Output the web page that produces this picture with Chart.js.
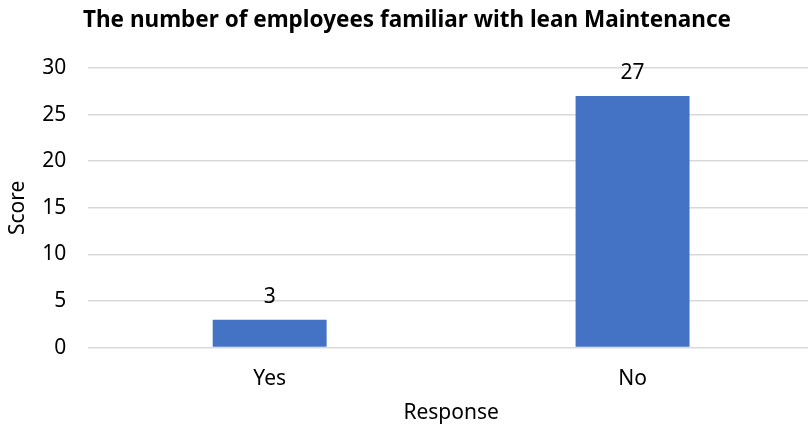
<!DOCTYPE html>
<html>
<head>
<meta charset="utf-8">
<script src="https://cdn.jsdelivr.net/npm/chart.js@4/dist/chart.umd.min.js"></script>
<style>
  html, body { margin: 0; padding: 0; background: #fff; overflow: hidden; }
  #wrap { width: 820px; height: 425px; }
</style>
</head>
<body>
<div id="wrap"><canvas id="chart" width="820" height="425"></canvas></div>
<script>
const categories = ['Yes', 'No'];
const scores = [3, 27];
const yTicks = [0, 5, 10, 15, 20, 25, 30];

const FONT = "'Noto Sans', sans-serif";

// draw the value above each bar
const valueLabels = {
  id: 'valueLabels',
  afterDatasetsDraw(chart) {
    const ctx = chart.ctx;
    const meta = chart.getDatasetMeta(0);
    ctx.save();
    ctx.font = '21px ' + FONT;
    ctx.fillStyle = '#000';
    ctx.textAlign = 'center';
    ctx.textBaseline = 'alphabetic';
    meta.data.forEach((bar, i) => {
      ctx.fillText(scores[i], bar.x, bar.y - 17);
    });
    ctx.restore();
  }
};

new Chart(document.getElementById('chart'), {
  type: 'bar',
  data: {
    labels: categories,
    datasets: [{
      label: 'Score',
      data: scores,
      backgroundColor: '#4472C4',
      barPercentage: 1,
      categoryPercentage: 0.314,
    }],
  },
  options: {
    responsive: false,
    animation: false,
    layout: { padding: { right: 6 } },
    plugins: {
      legend: { display: false },
      tooltip: { enabled: false },
      title: {
        display: true,
        text: 'The number of employees familiar with lean Maintenance',
        color: '#000',
        font: { family: FONT, size: 22.5, weight: 'bold' },
        padding: { top: 7, bottom: 34 },
      },
    },
    scales: {
      x: {
        grid: { display: false, drawTicks: false },
        border: { display: false },
        ticks: { color: '#000', font: { family: FONT, size: 21 }, padding: 19 },
        title: {
          display: true,
          text: 'Response',
          color: '#000',
          font: { family: FONT, size: 21 },
          // negative padding pulls the title in; the axis fit counts tick padding twice
          padding: { top: -10, bottom: -1 },
        },
      },
      y: {
        min: 0,
        max: 30,
        afterBuildTicks: (axis) => { axis.ticks = yTicks.map(v => ({ value: v })); },
        grid: { color: '#d9d9d9', lineWidth: 1.5, drawTicks: false },
        border: { display: false },
        ticks: { color: '#000', font: { family: FONT, size: 21 }, padding: 22 },
        title: {
          display: true,
          text: 'Score',
          color: '#000',
          font: { family: FONT, size: 21 },
          padding: { top: 5, bottom: -10 },
        },
      },
    },
  },
  plugins: [valueLabels],
});
</script>
</body>
</html>
